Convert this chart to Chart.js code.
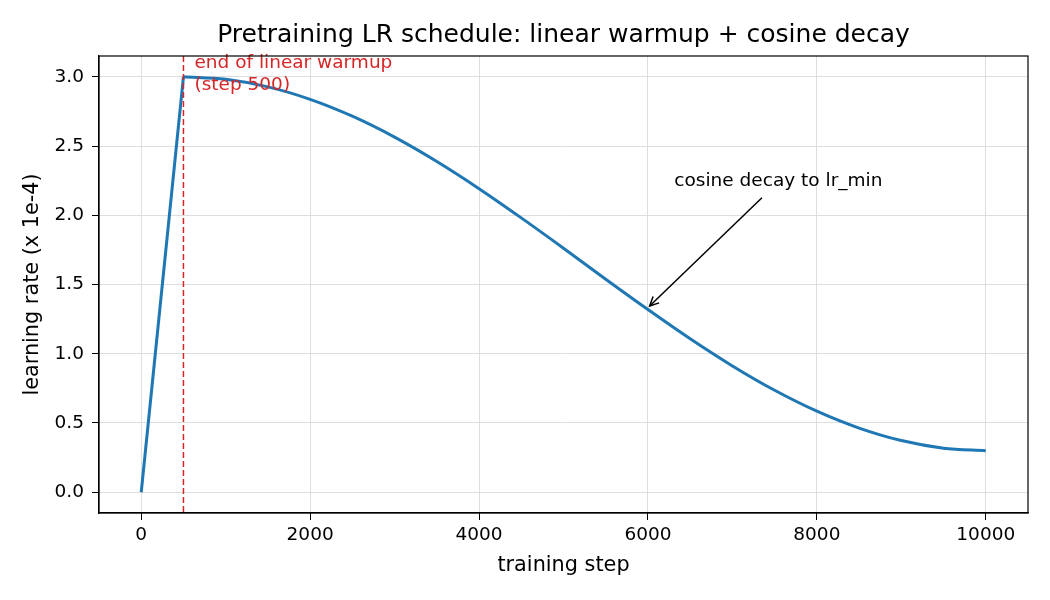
<!DOCTYPE html>
<html>
<head>
<meta charset="utf-8">
<script src="https://cdn.jsdelivr.net/npm/chart.js@4.4.1/dist/chart.umd.min.js"></script>
<style>
    body { margin: 0; background: #fff; }
</style>
</head>
<body>
<canvas id="lrChart" width="1050" height="600"></canvas>
<script>
// valores
const warmupSteps = [0, 500];
const warmupLr = [0.0, 3.0];

const decaySteps = [500, 1000, 1500, 2000, 2500, 3000, 3500, 4000, 4500, 5000,
    5500, 6000, 6500, 7000, 7500, 8000, 8500, 9000, 9500, 10000];
const decayLr = [3.000, 2.982, 2.927, 2.837, 2.715, 2.564, 2.388, 2.192, 1.981, 1.762,
    1.538, 1.319, 1.108, 0.912, 0.736, 0.585, 0.463, 0.373, 0.318, 0.300];

const xTicks = [0, 2000, 4000, 6000, 8000, 10000];
const yTicks = [0.0, 0.5, 1.0, 1.5, 2.0, 2.5, 3.0];

const warmupEnd = 500;

const toPoints = (xs, ys) => xs.map((x, i) => ({ x: x, y: ys[i] }));

Chart.defaults.font.family = 'DejaVu Sans';
Chart.defaults.color = '#000';

// anotacoes: linha tracejada, textos e seta
const annotations = {
    id: 'annotations',
    afterDatasetsDraw(chart) {
        const ctx = chart.ctx;
        const x = chart.scales.x;
        const y = chart.scales.y;
        const area = chart.chartArea;

        ctx.save();
        // linha vermelha do fim do warmup
        ctx.strokeStyle = '#d62728';
        ctx.lineWidth = 1.5;
        ctx.setLineDash([6, 3]);
        const wx = x.getPixelForValue(warmupEnd);
        ctx.beginPath();
        ctx.moveTo(wx, area.top);
        ctx.lineTo(wx, area.bottom);
        ctx.stroke();
        ctx.setLineDash([]);

        ctx.fillStyle = '#d62728';
        ctx.font = '18.5px DejaVu Sans';
        ctx.textAlign = 'left';
        ctx.textBaseline = 'middle';
        ctx.fillText('end of linear warmup', wx + 11, 63);
        ctx.fillText('(step 500)', wx + 11, 85);

        // seta
        const tipX = x.getPixelForValue(6020);
        const tipY = y.getPixelForValue(1.345);
        const tailX = x.getPixelForValue(7350);
        const tailY = y.getPixelForValue(2.126);
        ctx.strokeStyle = '#000';
        ctx.lineWidth = 1.5;
        ctx.beginPath();
        ctx.moveTo(tailX, tailY);
        ctx.lineTo(tipX, tipY);
        ctx.stroke();
        const ang = Math.atan2(tipY - tailY, tipX - tailX);
        ctx.beginPath();
        ctx.moveTo(tipX - 10 * Math.cos(ang - 0.45), tipY - 10 * Math.sin(ang - 0.45));
        ctx.lineTo(tipX, tipY);
        ctx.lineTo(tipX - 10 * Math.cos(ang + 0.45), tipY - 10 * Math.sin(ang + 0.45));
        ctx.stroke();

        ctx.fillStyle = '#000';
        ctx.font = '18.5px DejaVu Sans';
        ctx.textAlign = 'center';
        ctx.fillText('cosine decay to lr_min', x.getPixelForValue(7544), y.getPixelForValue(2.249));

        // moldura
        ctx.strokeStyle = '#000';
        ctx.lineWidth = 1.2;
        ctx.strokeRect(area.left, area.top, area.right - area.left, area.bottom - area.top);
        ctx.restore();
    }
};

const lrChart = document.getElementById('lrChart').getContext('2d');
new Chart(lrChart, {
    type: 'line',
    data: {
        datasets: [
            {
                data: toPoints(warmupSteps, warmupLr),
                borderColor: '#1f77b4',
                borderWidth: 3,
                pointRadius: 0,
                tension: 0
            },
            {
                data: toPoints(decaySteps, decayLr),
                borderColor: '#1f77b4',
                borderWidth: 3,
                pointRadius: 0,
                cubicInterpolationMode: 'monotone'
            }
        ]
    },
    options: {
        responsive: false,
        animation: false,
        layout: {
            padding: { left: 0, right: 22, top: 0, bottom: 0 }
        },
        plugins: {
            legend: { display: false },
            tooltip: { enabled: false },
            title: {
                display: true,
                fullSize: false,
                text: 'Pretraining LR schedule: linear warmup + cosine decay',
                font: { size: 25, weight: 'normal', lineHeight: 1.2 },
                color: '#000',
                padding: { top: 20, bottom: 6 }
            }
        },
        scales: {
            x: {
                type: 'linear',
                min: -500,
                max: 10500,
                afterBuildTicks: (scale) => { scale.ticks = xTicks.map(v => ({ value: v })); },
                afterFit: (scale) => { scale.height = 87; },
                ticks: {
                    font: { size: 18.5 },
                    color: '#000',
                    padding: 4,
                    maxRotation: 0,
                    callback: (v) => String(v)
                },
                grid: {
                    color: '#dedede',
                    tickColor: '#000',
                    tickLength: 7,
                    lineWidth: 1
                },
                border: { color: '#000', width: 1.2 },
                title: {
                    display: true,
                    text: 'training step',
                    font: { size: 20.8, lineHeight: 1.2 },
                    color: '#000',
                    padding: { top: 4, bottom: 22 }
                }
            },
            y: {
                min: -0.15,
                max: 3.15,
                afterBuildTicks: (scale) => { scale.ticks = yTicks.map(v => ({ value: v })); },
                afterFit: (scale) => { scale.width = 99; },
                ticks: {
                    font: { size: 18.5 },
                    color: '#000',
                    padding: 8,
                    callback: (v) => v.toFixed(1)
                },
                grid: {
                    color: '#dedede',
                    tickColor: '#000',
                    tickLength: 7,
                    lineWidth: 1
                },
                border: { color: '#000', width: 1.2 },
                title: {
                    display: true,
                    text: 'learning rate (x 1e-4)',
                    font: { size: 20.8, lineHeight: 1.2 },
                    color: '#000',
                    padding: { top: 20, bottom: 4 }
                }
            }
        }
    },
    plugins: [annotations]
});
</script>
</body>
</html>
